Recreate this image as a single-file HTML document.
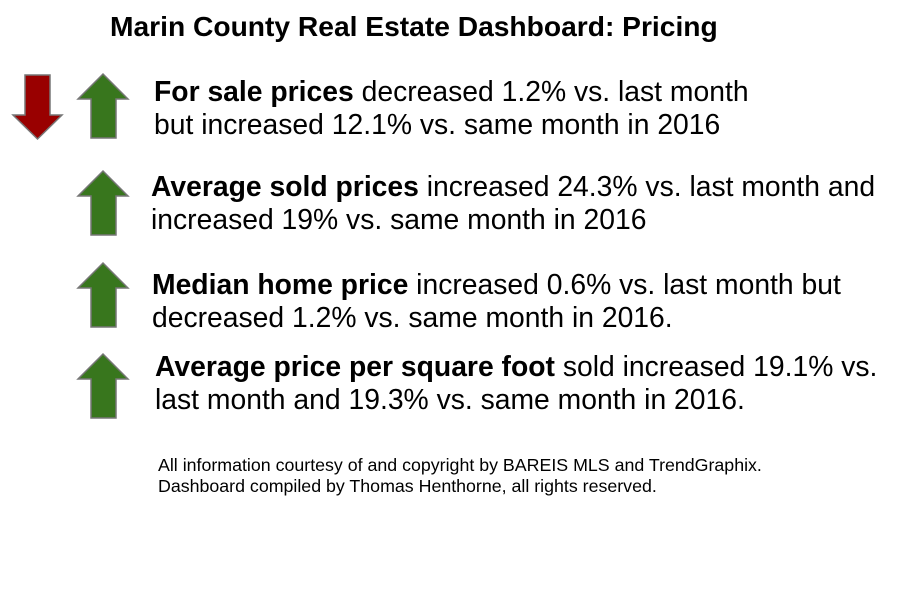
<!DOCTYPE html>
<html><head><style>
body{margin:0;width:899px;height:594px;background:#fff;font-family:"Liberation Sans",sans-serif;position:relative;overflow:hidden}
.t{position:absolute;white-space:nowrap;color:#000}
.b{font-size:28.3px;line-height:33px}
</style></head><body>
<svg width="899" height="594" style="position:absolute;left:0;top:0">
<g stroke="#777" stroke-width="1.5">
<polygon points="25,75 50,75 50,115 62,115 37.5,139 13,115 25,115" fill="#990000"/>
<polygon points="103,74 128,99 116,99 116,138 91,138 91,99 78,99" fill="#38761d"/>
<polygon points="103,171 128,196 116,196 116,235 91,235 91,196 78,196" fill="#38761d"/>
<polygon points="103,263 128,288 116,288 116,327 91,327 91,288 78,288" fill="#38761d"/>
<polygon points="103,354 128,379 116,379 116,418 91,418 91,379 78,379" fill="#38761d"/>
</g></svg>
<div class="t" style="left:110px;top:10px;font-size:28.2px;font-weight:bold">Marin County Real Estate Dashboard: Pricing</div>
<div class="t b" style="left:154px;top:75px"><b>For sale prices</b> decreased 1.2% vs. last month<br>but increased 12.1% vs. same month in 2016</div>
<div class="t b" style="left:151px;top:170px"><b>Average sold prices</b> increased 24.3% vs. last month and<br>increased 19% vs. same month in 2016</div>
<div class="t b" style="left:152px;top:268px"><b>Median home price</b> increased 0.6% vs. last month but<br>decreased 1.2% vs. same month in 2016.</div>
<div class="t b" style="left:155px;top:350px"><b>Average price per square foot</b> sold increased 19.1% vs.<br>last month and 19.3% vs. same month in 2016.</div>
<div class="t" style="left:158px;top:455px;font-size:17.8px;line-height:21px">All information courtesy of and copyright by BAREIS MLS and TrendGraphix.<br>Dashboard compiled by Thomas Henthorne, all rights reserved.</div>
</body></html>
